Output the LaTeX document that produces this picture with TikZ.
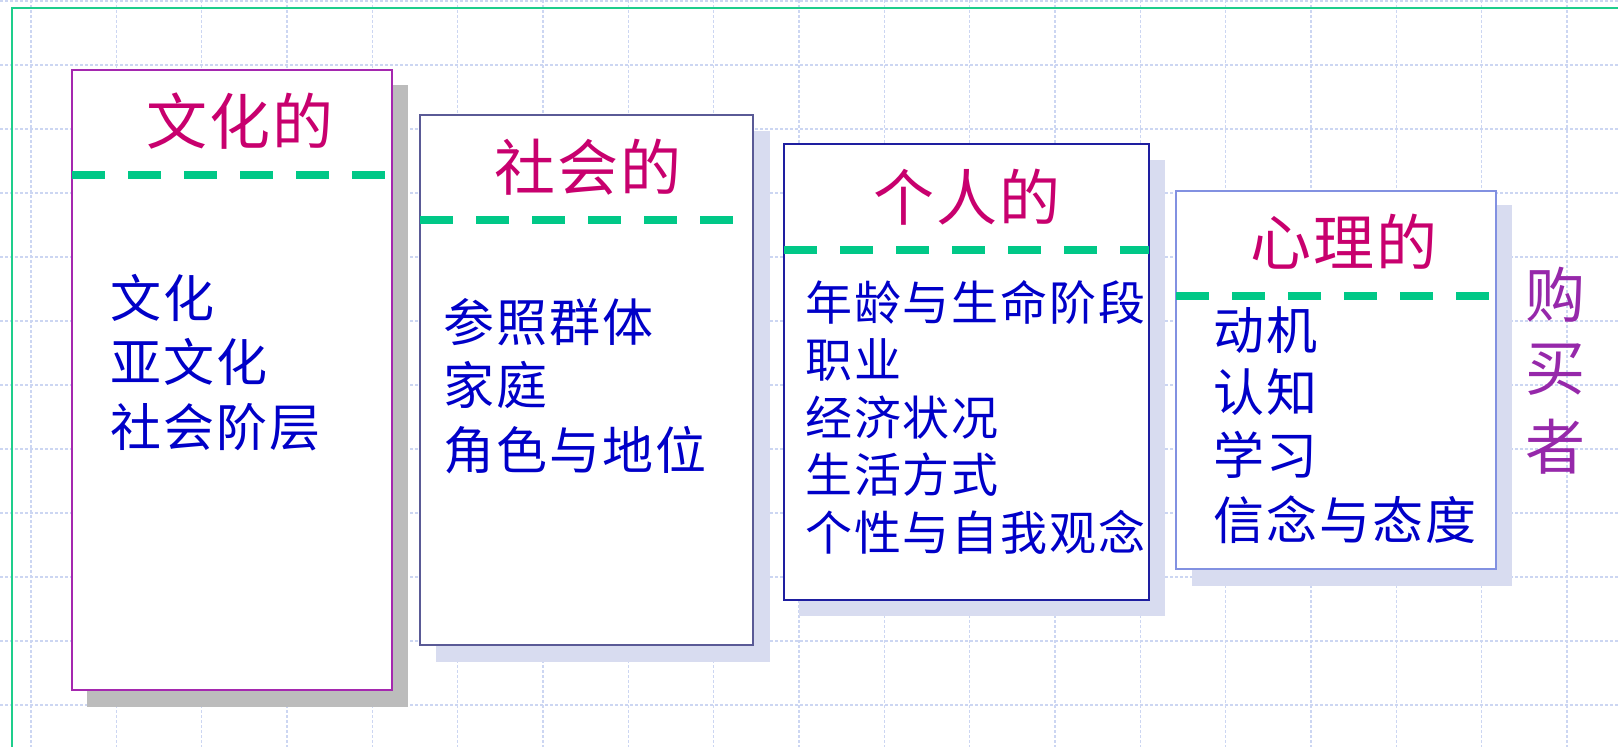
\documentclass[tikz,border=0pt]{standalone}
\usepackage{fontspec}
\newfontfamily\cjk[LetterSpace=4]{Noto Sans CJK SC}
\definecolor{gridc}{RGB}{204,214,242}
\definecolor{framec}{RGB}{30,206,140}
\definecolor{dashc}{RGB}{0,200,135}
\definecolor{titlec}{RGB}{200,0,110}
\definecolor{bodyc}{RGB}{0,0,200}
\definecolor{buyerc}{RGB}{150,40,170}
\definecolor{bordA}{RGB}{165,40,175}
\definecolor{bordB}{RGB}{90,90,150}
\definecolor{bordC}{RGB}{30,30,160}
\definecolor{bordD}{RGB}{130,145,225}
\definecolor{shadA}{RGB}{188,188,188}
\definecolor{shadB}{RGB}{216,220,240}
\tikzset{
  gridline/.style={draw=gridc, line width=1.2pt, dash pattern=on 3pt off 2pt},
  framel/.style={draw=framec, line width=2.4pt},
  sepline/.style={draw=dashc, line width=7.5pt, dash pattern=on 33pt off 23pt},
  cardbox/.style={fill=white, line width=1.6pt},
  title/.style={font=\cjk\fontsize{61}{61}\selectfont, text=titlec, inner sep=0pt},
  bodyA/.style={font=\cjk\fontsize{51}{51}\selectfont, text=bodyc, inner sep=0pt, anchor=west},
  bodyC/.style={font=\cjk\fontsize{47}{47}\selectfont, text=bodyc, inner sep=0pt, anchor=west},
  buyer/.style={font=\cjk\fontsize{60}{60}\selectfont, text=buyerc, inner sep=0pt}
}
\begin{document}
\begin{tikzpicture}[x=1pt,y=-1pt]
\useasboundingbox (0,0) rectangle (1618,747);
% grid
\foreach \k in {0,...,18} \draw[gridline] ({31+85.33*\k},0) -- ({31+85.33*\k},747);
\foreach \k in {0,...,11} \draw[gridline] (0,{1+64*\k}) -- (1618,{1+64*\k});
% frame
\draw[framel] (12,747) -- (12,8) -- (1618,8);
% box 1
\fill[shadA] (87,85) rectangle (408,707);
\draw[cardbox, draw=bordA] (72,70) rectangle (392,690);
\draw[sepline] (72,175) -- (392,175);
% box 2
\fill[shadB] (436,131) rectangle (770,662);
\draw[cardbox, draw=bordB] (420,115) rectangle (753,645);
\draw[sepline] (420,220) -- (753,220);
% box 3
\fill[shadB] (799,160) rectangle (1165,616);
\draw[cardbox, draw=bordC] (784,144) rectangle (1149,600);
\draw[sepline] (784,250) -- (1149,250);
% box 4
\fill[shadB] (1192,205) rectangle (1512,586);
\draw[cardbox, draw=bordD] (1176,191) rectangle (1496,569);
\draw[sepline] (1176,296) -- (1496,296);
% titles
\node[title] (t1) at (240,121) {文化的};
\node[title] (t2) at (588,167) {社会的};
\node[title] (t3) at (967,197) {个人的};
\node[title] (t4) at (1344,242) {心理的};
% box 1 body
\node[bodyA] (a1) at (110,298) {文化};
\node[bodyA] (a2) at (110,362) {亚文化};
\node[bodyA] (a3) at (110,427) {社会阶层};
% box 2 body
\node[bodyA] (b1) at (443,322) {参照群体};
\node[bodyA] (b2) at (443,385) {家庭};
\node[bodyA] (b3) at (443,450) {角色与地位};
% box 3 body
\node[bodyC] (c1) at (805,302) {年龄与生命阶段};
\node[bodyC] (c2) at (805,360) {职业};
\node[bodyC] (c3) at (805,418) {经济状况};
\node[bodyC] (c4) at (805,475) {生活方式};
\node[bodyC] (c5) at (805,532) {个性与自我观念};
% box 4 body
\node[bodyA] (d1) at (1213,330) {动机};
\node[bodyA] (d2) at (1213,392) {认知};
\node[bodyA] (d3) at (1213,455) {学习};
\node[bodyA] (d4) at (1213,520) {信念与态度};
% buyer
\node[buyer] (u1) at (1555,295) {购};
\node[buyer] (u2) at (1555,370) {买};
\node[buyer] (u3) at (1555,447) {者};
\end{tikzpicture}
\end{document}
